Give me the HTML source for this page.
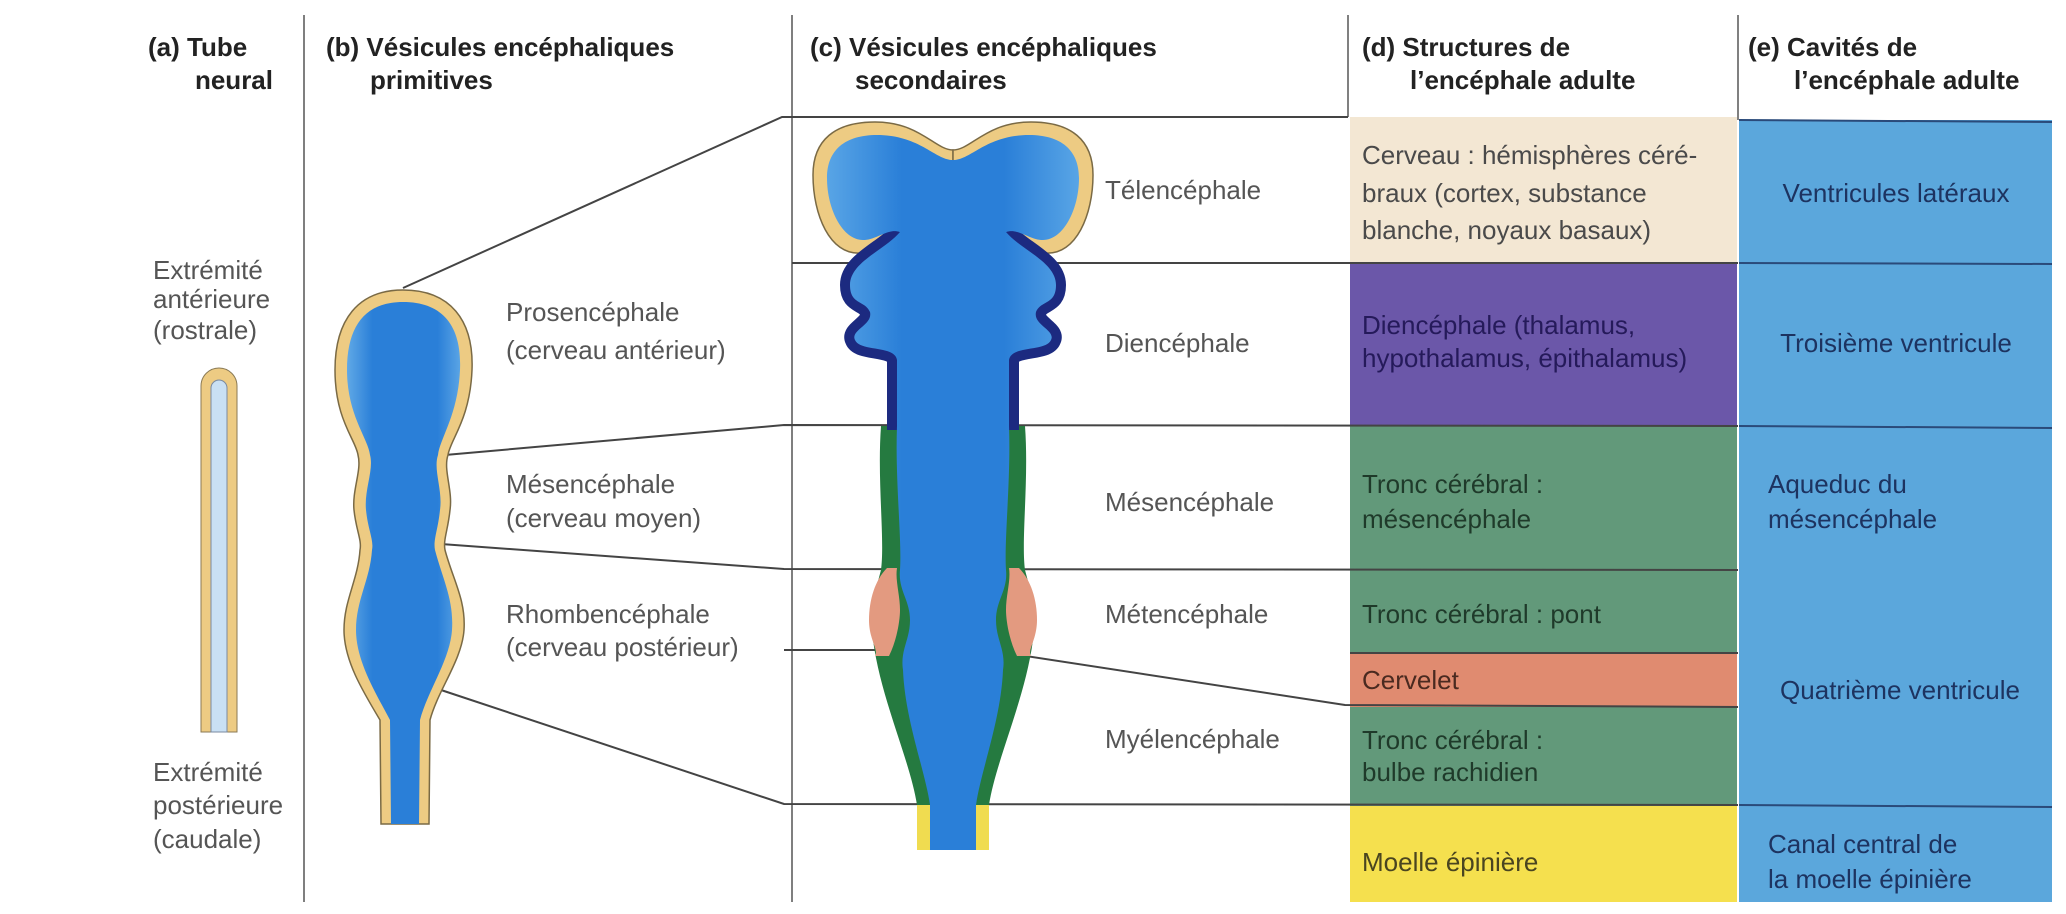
<!DOCTYPE html>
<html><head><meta charset="utf-8"><style>
html,body{margin:0;padding:0;background:#fff}
svg{display:block}
text{font-family:"Liberation Sans",sans-serif;dominant-baseline:central}
.h{font-weight:bold;font-size:26px;fill:#222}
.l{font-size:26px;fill:#555}
.d{font-size:26px;fill:#2a2a2a}
.e{font-size:26px;fill:#1d3360}
</style></head><body>
<svg width="2066" height="914" viewBox="0 0 2066 914" xmlns="http://www.w3.org/2000/svg">
<defs>
<linearGradient id="cavb" gradientUnits="userSpaceOnUse" x1="340" x2="470" y1="0" y2="0">
<stop offset="0" stop-color="#6fb4ea"/><stop offset="0.25" stop-color="#2a7fd8"/><stop offset="0.75" stop-color="#2a7fd8"/><stop offset="1" stop-color="#6fb4ea"/>
</linearGradient>
<linearGradient id="cavc" gradientUnits="userSpaceOnUse" x1="820" x2="1076" y1="0" y2="0">
<stop offset="0" stop-color="#5aa6e6"/><stop offset="0.3" stop-color="#2a7fd8"/><stop offset="0.7" stop-color="#2a7fd8"/><stop offset="1" stop-color="#5aa6e6"/>
</linearGradient>
</defs>

<rect x="1350" y="117" width="387" height="147" fill="#f3e7d3"/>
<rect x="1350" y="264" width="387" height="162" fill="#6b57a9"/>
<rect x="1350" y="426" width="387" height="227" fill="#62997a"/>
<rect x="1350" y="653" width="387" height="54" fill="#e08b70"/>
<rect x="1350" y="707" width="387" height="99" fill="#62997a"/>
<rect x="1350" y="806" width="387" height="96" fill="#f5e04e"/>
<rect x="1739" y="120" width="313" height="782" fill="#5ba7dc"/>

<g stroke="#555" stroke-width="1.5">
<line x1="304" y1="15" x2="304" y2="902"/>
<line x1="792" y1="15" x2="792" y2="902"/>
<line x1="1348" y1="15" x2="1348" y2="117"/>
<line x1="1738" y1="15" x2="1738" y2="120"/>
</g>
<g stroke="#444" stroke-width="2" fill="none">
<polyline points="403,288 782,117 1348,117"/>
<line x1="1739" y1="120" x2="2052" y2="122" stroke="#2a4a7a"/>
<line x1="792" y1="263" x2="1738" y2="263"/>
<line x1="1739" y1="263" x2="2052" y2="264" stroke="#2a4a7a"/>
<polyline points="445,455 784,425 1738,426"/>
<line x1="1739" y1="426" x2="2052" y2="428" stroke="#2a4a7a"/>
<polyline points="441,544 784,569 1738,570"/>
<line x1="784" y1="650" x2="900" y2="650"/>
<polyline points="1000,652 1345,705 1738,707"/>
<line x1="1350" y1="653" x2="1738" y2="653"/>
<polyline points="441,690 784,804 1738,805"/>
<line x1="1739" y1="805" x2="2052" y2="807" stroke="#2a4a7a"/>
</g>

<path d="M201,732 L201,386 A18,18 0 0 1 237,386 L237,732 Z" fill="#edcb83" stroke="#8a7a55" stroke-width="1"/>
<path d="M211,732 L211,388 A8,8 0 0 1 227,388 L227,732 Z" fill="#c9e0f4" stroke="#7a8aa0" stroke-width="1"/>

<path d="M403,290 C450,290 474,320 472,370 C470,420 450,440 448,455 C443,470 453,490 450,510 C448,530 443,540 445,550 C453,580 466,600 464,630 C462,660 438,690 430,720 L429,824 L381,824 L380,720 C362,690 344,660 344,630 C344,600 358,580 360,550 C362,540 356,530 354,510 C352,490 362,470 358,455 C356,440 335,420 335,370 C335,320 358,290 403,290 Z" fill="#edcb83" stroke="#7a6a45" stroke-width="1.5"/>
<path d="M403,302 C442,302 462,325 460,370 C458,415 440,438 438,455 C433,470 443,490 440,510 C438,530 433,540 435,550 C443,580 454,600 452,630 C450,660 428,690 420,720 L419,824 L391,824 L390,720 C374,690 356,660 356,630 C356,600 370,580 372,550 C374,540 368,530 366,510 C364,490 374,470 370,455 C368,438 347,415 347,370 C347,325 366,302 403,302 Z" fill="url(#cavb)"/>

<g transform="translate(5,0)">
<g id="half">
<path d="M948,150 C930,150 915,122 870,122 C830,122 808,140 808,175 C808,215 825,255 855,253 C872,252 880,238 892,230 L948,230 Z" fill="#edcb83" stroke="#7a6a45" stroke-width="1.5"/>
<path d="M948,426 L876,426 C872,480 880,540 876,570 L868,600 L868,640 C876,700 905,760 912,805 L948,805 Z" fill="#257a40"/>
<path d="M882,568 C870,580 864,600 864,620 C864,640 874,650 870,656 L884,656 C892,640 895,620 895,610 C895,595 890,580 892,568 Z" fill="#e39a80"/>
<path d="M912,805 L912,850 L948,850 L948,805 Z" fill="#f0dc50"/>
<path d="M895,232 C880,250 845,262 845,285 C845,305 860,300 865,312 C868,325 845,330 850,340 C855,352 890,345 892,360 L892,430" fill="none" stroke="#1c2a80" stroke-width="20" stroke-linejoin="round"/>
</g>
<use href="#half" transform="translate(1896,0) scale(-1,1)"/>
<path d="M948,160 C930,160 915,135 872,135 C840,135 822,150 822,178 C822,210 838,240 858,240 C872,240 882,228 895,232 C880,250 845,262 845,285 C845,305 860,300 865,312 C868,325 845,330 850,340 C855,352 890,345 892,360 L892,426 C890,480 897,540 895,570 C893,590 905,600 905,620 C905,640 895,650 898,670 C900,720 920,770 925,805 L925,850 L971,850 L971,805 C976,770 996,720 998,670 C1001,650 991,640 991,620 C991,600 1003,590 1001,570 C999,540 1006,480 1004,426 L1004,360 C1006,345 1041,352 1046,340 C1051,330 1028,325 1031,312 C1036,300 1051,305 1051,285 C1051,262 1016,250 1001,232 C1014,228 1024,240 1038,240 C1058,240 1074,210 1074,178 C1074,150 1056,135 1024,135 C981,135 966,160 948,160 Z" fill="url(#cavc)"/>
</g>

<text class="h" x="148" y="47">(a) Tube</text>
<text class="h" x="273" y="80" text-anchor="end">neural</text>
<text class="h" x="326" y="47">(b) Vésicules encéphaliques</text>
<text class="h" x="370" y="80">primitives</text>
<text class="h" x="810" y="47">(c) Vésicules encéphaliques</text>
<text class="h" x="855" y="80">secondaires</text>
<text class="h" x="1362" y="47">(d) Structures de</text>
<text class="h" x="1410" y="80">l’encéphale adulte</text>
<text class="h" x="1748" y="47">(e) Cavités de</text>
<text class="h" x="1794" y="80">l’encéphale adulte</text>

<text class="l" x="153" y="270">Extrémité</text>
<text class="l" x="153" y="299">antérieure</text>
<text class="l" x="153" y="330">(rostrale)</text>
<text class="l" x="153" y="772">Extrémité</text>
<text class="l" x="153" y="805">postérieure</text>
<text class="l" x="153" y="839">(caudale)</text>

<text class="l" x="506" y="312">Prosencéphale</text>
<text class="l" x="506" y="350">(cerveau antérieur)</text>
<text class="l" x="506" y="484">Mésencéphale</text>
<text class="l" x="506" y="518">(cerveau moyen)</text>
<text class="l" x="506" y="614">Rhombencéphale</text>
<text class="l" x="506" y="647">(cerveau postérieur)</text>

<text class="l" x="1105" y="190">Télencéphale</text>
<text class="l" x="1105" y="343">Diencéphale</text>
<text class="l" x="1105" y="502">Mésencéphale</text>
<text class="l" x="1105" y="614">Métencéphale</text>
<text class="l" x="1105" y="739">Myélencéphale</text>

<text class="d" x="1362" y="155" style="fill:#4a4a4a">Cerveau : hémisphères céré-</text>
<text class="d" x="1362" y="193" style="fill:#4a4a4a">braux (cortex, substance</text>
<text class="d" x="1362" y="230" style="fill:#4a4a4a">blanche, noyaux basaux)</text>
<text class="d" x="1362" y="325" style="fill:#251a5a">Diencéphale (thalamus,</text>
<text class="d" x="1362" y="358" style="fill:#251a5a">hypothalamus, épithalamus)</text>
<text class="d" x="1362" y="484" style="fill:#1f3a2a">Tronc cérébral :</text>
<text class="d" x="1362" y="519" style="fill:#1f3a2a">mésencéphale</text>
<text class="d" x="1362" y="614" style="fill:#1f3a2a">Tronc cérébral : pont</text>
<text class="d" x="1362" y="680" style="fill:#4a2a20">Cervelet</text>
<text class="d" x="1362" y="740" style="fill:#1f3a2a">Tronc cérébral :</text>
<text class="d" x="1362" y="772" style="fill:#1f3a2a">bulbe rachidien</text>
<text class="d" x="1362" y="862" style="fill:#4a4520">Moelle épinière</text>

<text class="e" x="1896" y="193" text-anchor="middle">Ventricules latéraux</text>
<text class="e" x="1896" y="343" text-anchor="middle">Troisième ventricule</text>
<text class="e" x="1768" y="484">Aqueduc du</text>
<text class="e" x="1768" y="519">mésencéphale</text>
<text class="e" x="1900" y="690" text-anchor="middle">Quatrième ventricule</text>
<text class="e" x="1768" y="844">Canal central de</text>
<text class="e" x="1768" y="879">la moelle épinière</text>
</svg>
</body></html>
